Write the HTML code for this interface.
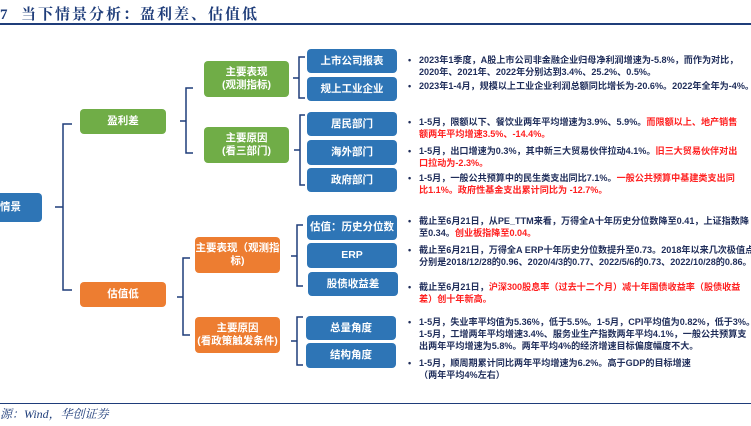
<!DOCTYPE html>
<html><head><meta charset="utf-8"><style>
body{margin:0;width:751px;height:426px;background:#fff;position:relative;overflow:hidden;font-family:"Liberation Sans","Noto Sans CJK SC",sans-serif;}
.b{position:absolute;border-radius:4px;color:#fff;font-weight:bold;display:flex;align-items:center;justify-content:center;text-align:center;font-size:10.5px;line-height:13px;}
.bl{background:#2e75b6}.gr{background:#70ad47}.or{background:#ed7d31}
.t{position:absolute;left:408px;font-size:9.1px;font-weight:bold;color:#1f2d5a;line-height:12px;white-space:nowrap;}
.t span.r{color:#ff2020}
.t i{font-style:normal;position:absolute;left:0}
.t div{padding-left:11px}
</style></head><body>
<div style="position:absolute;left:0;top:3px;font-size:15px;font-weight:bold;color:#1f3d7a;font-family:'Liberation Serif','Noto Serif CJK SC',serif;letter-spacing:2px">7&nbsp;&nbsp;当下情景分析：盈利差、估值低</div>
<div style="position:absolute;left:0;top:23px;width:751px;height:2px;background:#1f3d7a"></div>
<div style="position:absolute;left:0;top:403px;width:751px;height:1px;background:#1f3d7a"></div>
<div style="position:absolute;left:0;top:405px;font-size:12px;font-style:italic;color:#1f3d7a;font-family:'Liberation Serif','Noto Serif CJK SC',serif">源：Wind，华创证券</div>

<div class="b bl" style="left:-20px;top:193px;width:62px;height:29px;justify-content:flex-start;padding-left:20px;box-sizing:border-box">情景</div>
<div class="b gr" style="left:80px;top:109px;width:86px;height:25px">盈利差</div>
<div class="b or" style="left:80px;top:282px;width:86px;height:25px">估值低</div>
<div class="b gr" style="left:204px;top:61px;width:85px;height:36px">主要表现<br>(观测指标)</div>
<div class="b gr" style="left:204px;top:127px;width:85px;height:36px">主要原因<br>(看三部门)</div>
<div class="b or" style="left:195px;top:237px;width:85px;height:36px">主要表现（观测指<br>标)</div>
<div class="b or" style="left:195px;top:317px;width:85px;height:36px">主要原因<br>(看政策触发条件)</div>

<div class="b bl" style="left:307px;top:49px;width:90px;height:24px">上市公司报表</div>
<div class="b bl" style="left:307px;top:77px;width:90px;height:24px">规上工业企业</div>
<div class="b bl" style="left:307px;top:112px;width:90px;height:24px">居民部门</div>
<div class="b bl" style="left:307px;top:140px;width:90px;height:25px">海外部门</div>
<div class="b bl" style="left:307px;top:168px;width:90px;height:24px">政府部门</div>
<div class="b bl" style="left:307px;top:215px;width:90px;height:25px">估值：历史分位数</div>
<div class="b bl" style="left:307px;top:243px;width:90px;height:25px">ERP</div>
<div class="b bl" style="left:308px;top:272px;width:90px;height:24px">股债收益差</div>
<div class="b bl" style="left:306px;top:316px;width:90px;height:24px">总量角度</div>
<div class="b bl" style="left:306px;top:343px;width:90px;height:25px">结构角度</div>

<svg width="751" height="426" style="position:absolute;left:0;top:0" fill="none" stroke="#1f3d7a" stroke-width="1.5">
<path d="M72 124H63V290H72M55 207H63"/>
<path d="M193 88H186V153H193M180 121H186"/>
<path d="M305 57H299V98H305M293 78H299"/>
<path d="M305 115H300V185H305M294 150H300"/>
<path d="M190 258H183V335H190M177 297H183"/>
<path d="M303 225H297V286H303M291 256H297"/>
<path d="M303 317H297V365H303M291 341H297"/>
</svg>

<div class="t" style="top:54px"><i>•</i><div>2023年1季度，A股上市公司非金融企业归母净利润增速为-5.8%，而作为对比，<br>2020年、2021年、2022年分别达到3.4%、25.2%、0.5%。</div></div>
<div class="t" style="top:80px"><i>•</i><div>2023年1-4月，规模以上工业企业利润总额同比增长为-20.6%。2022年全年为-4%。</div></div>
<div class="t" style="top:116px"><i>•</i><div>1-5月，限额以下、餐饮业两年平均增速为3.9%、5.9%。<span class="r">而限额以上、地产销售<br>额两年平均增速3.5%、-14.4%。</span></div></div>
<div class="t" style="top:145px"><i>•</i><div>1-5月，出口增速为0.3%，其中新三大贸易伙伴拉动4.1%。<span class="r">旧三大贸易伙伴对出<br>口拉动为-2.3%。</span></div></div>
<div class="t" style="top:172px"><i>•</i><div>1-5月，一般公共预算中的民生类支出同比7.1%。<span class="r">一般公共预算中基建类支出同<br>比1.1%。政府性基金支出累计同比为 -12.7%。</span></div></div>
<div class="t" style="top:215px"><i>•</i><div>截止至6月21日，从PE_TTM来看，万得全A十年历史分位数降至0.41，上证指数降<br>至0.34。<span class="r">创业板指降至0.04。</span></div></div>
<div class="t" style="top:244px"><i>•</i><div>截止至6月21日，万得全A ERP十年历史分位数提升至0.73。2018年以来几次极值点<br>分别是2018/12/28的0.96、2020/4/3的0.77、2022/5/6的0.73、2022/10/28的0.86。</div></div>
<div class="t" style="top:281px"><i>•</i><div>截止至6月21日，<span class="r">沪深300股息率（过去十二个月）减十年国债收益率（股债收益<br>差）创十年新高。</span></div></div>
<div class="t" style="top:316px"><i>•</i><div>1-5月，失业率平均值为5.36%，低于5.5%。1-5月，CPI平均值为0.82%，低于3%。<br>1-5月，工增两年平均增速3.4%、服务业生产指数两年平均4.1%，一般公共预算支<br>出两年平均增速为5.8%。两年平均4%的经济增速目标偏度幅度不大。</div></div>
<div class="t" style="top:357px"><i>•</i><div>1-5月，顺周期累计同比两年平均增速为6.2%。高于GDP的目标增速<br>（两年平均4%左右）</div></div>
</body></html>
